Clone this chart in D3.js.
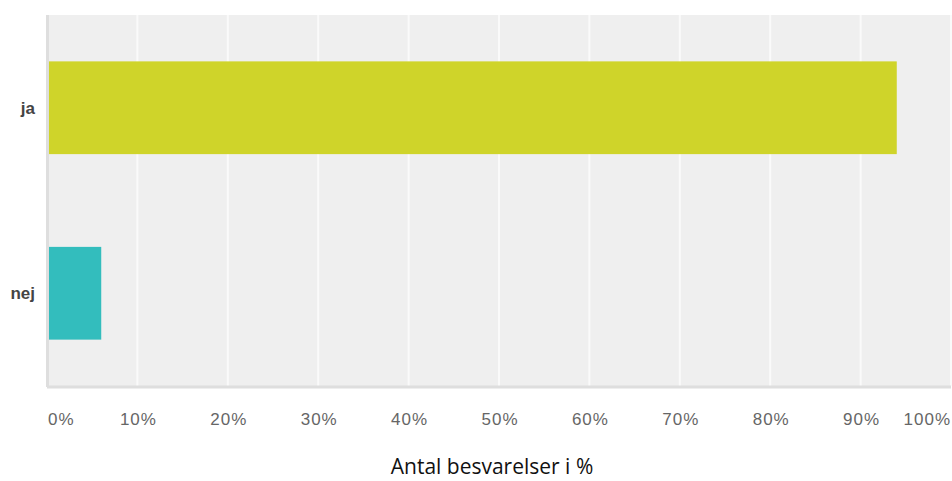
<!DOCTYPE html>
<html lang="da">
<head>
<meta charset="utf-8">
<title>Antal besvarelser</title>
<script src="https://d3js.org/d3.v7.min.js"></script>
<style>
  body { margin: 0; background: #fff; }
</style>
</head>
<body>
<script>
var categories = ["ja", "nej"];
var values = [94, 6];
var barColors = ["#cfd42a", "#33bdbd"];
var ticks = [0, 10, 20, 30, 40, 50, 60, 70, 80, 90, 100];
var axisTitle = "Antal besvarelser i %";

var w = 952, h = 481;
var margin = { top: 15, right: 1, bottom: 95, left: 47 };

var svg = d3.select("body").append("svg")
    .attr("width", w)
    .attr("height", h);

var x = d3.scaleLinear().domain([0, 100]).range([margin.left, w - margin.right]);
var y = d3.scaleBand().domain(categories)
    .range([margin.top, h - margin.bottom])
    .paddingInner(0.5).paddingOuter(0.25);

// plot background
svg.append("rect")
    .attr("x", margin.left)
    .attr("y", margin.top)
    .attr("width", w - margin.right - margin.left)
    .attr("height", h - margin.bottom - margin.top)
    .attr("fill", "#efefef");

// gridlines
svg.selectAll("line.grid")
    .data(ticks.slice(1))
    .enter().append("line")
    .attr("class", "grid")
    .attr("x1", function (d) { return x(d); })
    .attr("x2", function (d) { return x(d); })
    .attr("y1", margin.top)
    .attr("y2", h - margin.bottom)
    .attr("stroke", "#fafafa")
    .attr("stroke-width", 2);

// bars
svg.selectAll("rect.bar")
    .data(values)
    .enter().append("rect")
    .attr("class", "bar")
    .attr("x", x(0))
    .attr("y", function (d, i) { return y(categories[i]); })
    .attr("width", function (d) { return x(d) - x(0); })
    .attr("height", y.bandwidth())
    .attr("fill", function (d, i) { return barColors[i]; });

// axis lines
svg.append("line")
    .attr("x1", margin.left + 0.5).attr("x2", margin.left + 0.5)
    .attr("y1", margin.top).attr("y2", h - margin.bottom + 1)
    .attr("stroke", "#dedede").attr("stroke-width", 3);
svg.append("line")
    .attr("x1", margin.left).attr("x2", w - margin.right)
    .attr("y1", h - margin.bottom + 1).attr("y2", h - margin.bottom + 1)
    .attr("stroke", "#dedede").attr("stroke-width", 3);

// y labels
svg.selectAll("text.cat")
    .data(categories)
    .enter().append("text")
    .attr("class", "cat")
    .attr("x", 35)
    .attr("y", function (d) { return y(d) + y.bandwidth() / 2; })
    .attr("dy", "0.35em")
    .attr("text-anchor", "end")
    .attr("font-family", "Liberation Sans, Arial, sans-serif")
    .attr("font-weight", "bold")
    .attr("font-size", 17)
    .attr("fill", "#444")
    .text(function (d) { return d; });

// x tick labels
svg.selectAll("text.tick")
    .data(ticks)
    .enter().append("text")
    .attr("class", "tick")
    .attr("x", function (d, i) {
        if (i === 0) return x(d) + 1;
        if (i === ticks.length - 1) return x(d);
        return x(d) + 1;
    })
    .attr("y", 425)
    .attr("text-anchor", function (d, i) {
        if (i === 0) return "start";
        if (i === ticks.length - 1) return "end";
        return "middle";
    })
    .attr("font-family", "Liberation Sans, Arial, sans-serif")
    .attr("font-size", 17)
    .attr("letter-spacing", 1)
    .attr("fill", "#666")
    .text(function (d) { return d + "%"; });

// axis title
svg.append("text")
    .attr("x", 492)
    .attr("y", 474)
    .attr("text-anchor", "middle")
    .attr("font-family", "Open Sans, Noto Sans, sans-serif")
    .attr("font-size", 21)
    .attr("fill", "#111")
    .text(axisTitle);
</script>
</body>
</html>
